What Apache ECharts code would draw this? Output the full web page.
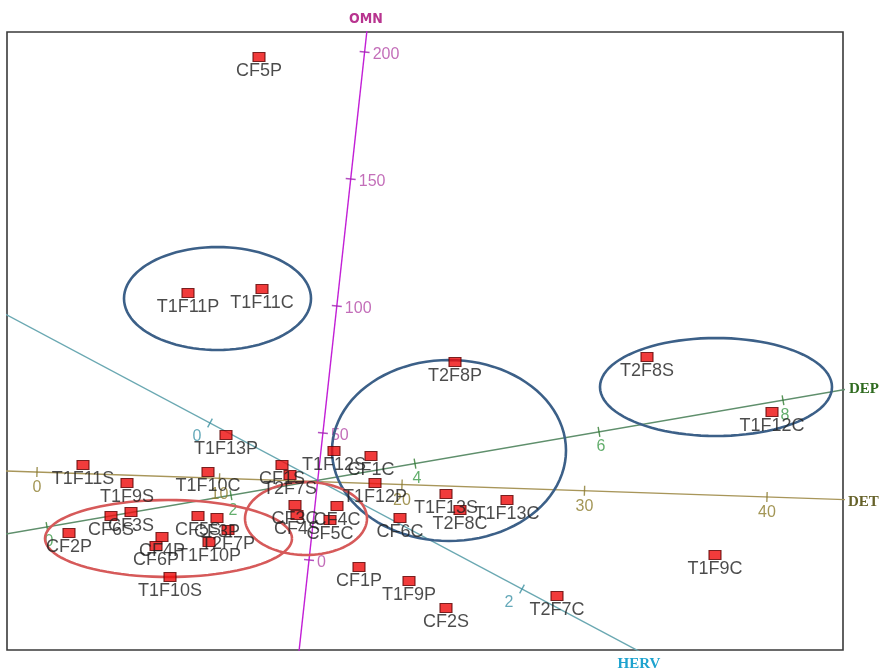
<!DOCTYPE html>
<html>
<head>
<meta charset="utf-8">
<script src="https://cdn.jsdelivr.net/npm/echarts@6/dist/echarts.min.js"></script>
<style>html,body{margin:0;padding:0;background:#fff;}#chart{width:884px;height:672px;}</style>
</head>
<body>
<div id="chart"></div>
<script>
// ---- Data (biplot scores) ----
const pointNames = ['CF5P','T1F11P','T1F11C','T2F8P','T2F8S','T1F12C','T1F13P','T1F11S','T1F9S','T1F10C',
  'CF1S','T2F7S','T1F12S','CF1C','T1F12P','CF6C','T1F13S','T2F8C','T1F13C','CF3C',
  'CF4S','CF4C','CF5C','CF6S','CF3S','CF5S','CF3P','T2F7P','CF4P','CF6P',
  'T1F10P','T1F10S','CF2P','CF1P','T1F9P','CF2S','T2F7C','T1F9C'];
const pointX = [-0.41,-1.12,-0.38,1.55,3.47,4.72,-0.74,-2.17,-1.73,-0.92,
  -0.18,-0.10,0.34,0.71,0.75,1.00,1.46,1.60,2.07,-0.05,
  -0.03,0.37,0.30,-1.89,-1.69,-1.02,-0.83,-0.72,-1.38,-1.44,
  -0.91,-1.30,-2.31,0.59,1.09,1.46,2.57,4.15];
const pointY = [4.13,1.77,1.81,1.08,1.13,0.58,0.35,0.05,-0.13,-0.02,
  0.05,-0.05,0.19,0.14,-0.13,-0.48,-0.24,-0.40,-0.30,-0.35,
  -0.45,-0.36,-0.50,-0.46,-0.42,-0.46,-0.48,-0.60,-0.67,-0.76,
  -0.72,-1.07,-0.63,-0.97,-1.11,-1.38,-1.26,-0.85];

// biplot variable axes: calibration = [origin x, origin y, dx per unit, dy per unit]
const omnTicks = [0, 50, 100, 150, 200];
const omnCalib = [0.09, -0.90, 0.139 / 50, 1.27 / 50];
const omnRange = [-60, 240];
const depTicks = [0, 2, 4, 6, 8];
const depCalib = [-2.53, -0.57, 1.84 / 2, 0.317 / 2];
const depRange = [-2, 12];
const detTicks = [0, 10, 20, 30, 40];
const detCalib = [-2.63, -0.02, 1.825 / 10, -0.0625 / 10];
const detRange = [-10, 60];
const hervTicks = [0, 2];
const hervCalib = [-0.90, 0.47, 1.56, -0.83];
const hervRange = [-3, 4];

// group ellipses: centre x, centre y, radius x, radius y
const blueCX = [-0.825, 1.49, 4.16];
const blueCY = [1.715, 0.195, 0.83];
const blueRX = [0.935, 1.17, 1.16];
const blueRY = [0.515, 0.905, 0.49];
const redCX = [-1.315, 0.06];
const redCY = [-0.685, -0.485];
const redRX = [1.235, 0.61];
const redRY = [0.385, 0.365];

const xRange = [-2.93, 5.43];
const yRange = [-1.80, 4.38];

// ---- Build chart ----
function at(c, v) { return [c[0] + c[2] * v, c[1] + c[3] * v]; }
function angle(c) { return Math.atan2(c[3], c[2]) * 180 / Math.PI; }

function axisLine(calib, range, color) {
  return { type: 'line', data: [at(calib, range[0]), at(calib, range[1])], symbol: 'none',
    lineStyle: { color: color, width: 1.4 }, silent: true, z: 2, clip: true };
}
function axisTicks(calib, ticks, color, labelColor, labelCfg) {
  return { type: 'scatter', silent: true, z: 3,
    data: ticks.map(t => ({ value: at(calib, t), name: String(t) })),
    symbol: 'rect', symbolSize: [10, 1.4], symbolRotate: angle(calib) - 90,
    itemStyle: { color: color },
    label: Object.assign({ show: true, formatter: '{b}', color: labelColor, fontSize: 16,
      fontFamily: 'Liberation Sans, Arial, sans-serif' }, labelCfg) };
}
function ellipseSeries(cx, cy, rx, ry, color) {
  return { type: 'custom', silent: true, z: 4,
    data: cx.map((v, i) => [v, cy[i], rx[i], ry[i]]),
    encode: { x: 0, y: 1 },
    renderItem: function (params, api) {
      const c = api.coord([api.value(0), api.value(1)]);
      const s = api.size([api.value(2), api.value(3)]);
      const pts = [];
      for (let i = 0; i <= 96; i++) {
        const t = i / 96 * 2 * Math.PI;
        pts.push([c[0] + s[0] * Math.cos(t), c[1] + s[1] * Math.sin(t)]);
      }
      return { type: 'polyline', shape: { points: pts },
        style: { fill: 'none', stroke: color, lineWidth: 2.6 } };
    } };
}

const chart = echarts.init(document.getElementById('chart'), null, { renderer: 'canvas' });
chart.setOption({
  backgroundColor: '#ffffff',
  animation: false,
  grid: { left: 7, top: 32, width: 836, height: 618, show: true,
    borderColor: '#3a3a3a', borderWidth: 1.6, backgroundColor: 'transparent' },
  xAxis: { type: 'value', min: xRange[0], max: xRange[1], show: false, splitLine: { show: false } },
  yAxis: { type: 'value', min: yRange[0], max: yRange[1], show: false, splitLine: { show: false } },
  graphic: [
    { type: 'text', x: 366, y: 19, z: 10, style: { text: 'OMN', fill: '#b8348f',
      font: 'bold 14px "DejaVu Sans Condensed", "DejaVu Sans", sans-serif', align: 'center', verticalAlign: 'middle' } },
    { type: 'text', x: 849, y: 389, z: 10, style: { text: 'DEP', fill: '#2f6b1f',
      font: 'bold 15px "Liberation Serif", serif', align: 'left', verticalAlign: 'middle' } },
    { type: 'text', x: 848, y: 502, z: 10, style: { text: 'DET', fill: '#66622a',
      font: 'bold 15px "Liberation Serif", serif', align: 'left', verticalAlign: 'middle' } },
    { type: 'text', x: 639, y: 664, z: 10, style: { text: 'HERV', fill: '#1ea3cf',
      font: 'bold 15px "Liberation Serif", serif', align: 'center', verticalAlign: 'middle' } }
  ],
  series: [
    axisLine(detCalib, detRange, '#a8965a'),
    axisLine(hervCalib, hervRange, '#6aa8b2'),
    axisLine(depCalib, depRange, '#5f8f6c'),
    axisLine(omnCalib, omnRange, '#c21fd6'),
    axisTicks(omnCalib, omnTicks, '#a020b0', '#b44aa8', { position: 'right', distance: 3, offset: [0, 3] }),
    axisTicks(depCalib, depTicks, '#2f7a2f', '#3c9a48', { position: 'inside', offset: [2, 15] }),
    axisTicks(detCalib, detTicks, '#8a7a30', '#8c7c2c', { position: 'inside', offset: [0, 16] }),
    axisTicks(hervCalib, hervTicks, '#3a90a0', '#3f94a8', { position: 'inside', offset: [-13, 14] }),
    ellipseSeries(blueCX, blueCY, blueRX, blueRY, '#3c6088'),
    ellipseSeries(redCX, redCY, redRX, redRY, '#d65a5a'),
    { type: 'scatter', z: 6,
      data: pointNames.map((n, i) => ({ name: n, value: [pointX[i], pointY[i]] })),
      symbol: 'rect', symbolSize: [12, 9],
      itemStyle: { color: '#ee0a0a', borderColor: '#5a0000', borderWidth: 1 },
      label: { show: true, position: 'bottom', distance: 0, formatter: '{b}',
        color: '#1e1e1e', fontSize: 18, fontFamily: 'Liberation Sans, Arial, sans-serif' } }
  ]
});
</script>
</body>
</html>
